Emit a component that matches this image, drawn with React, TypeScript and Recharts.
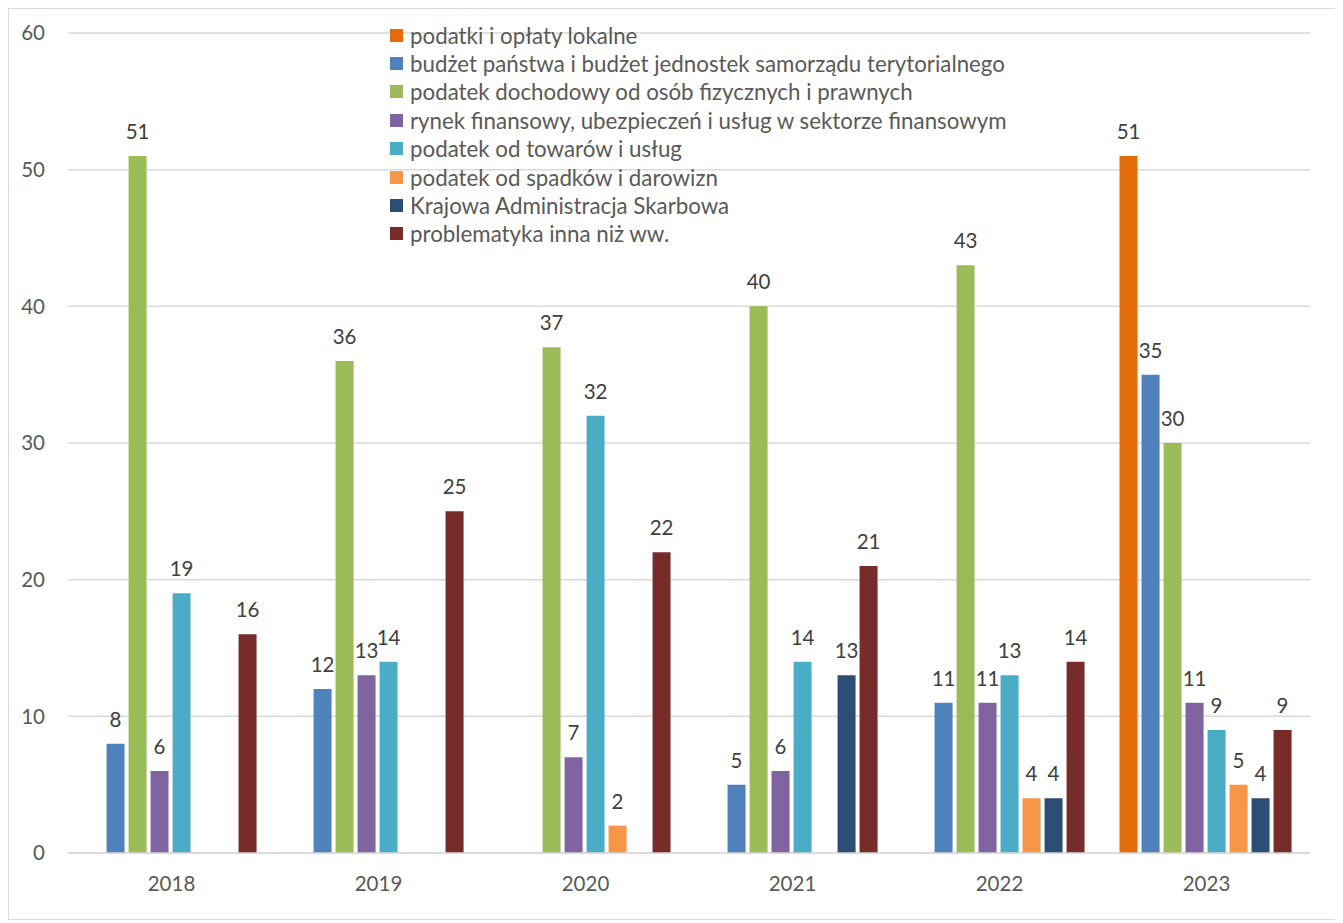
import React from 'react';
import {
  BarChart,
  Bar,
  XAxis,
  YAxis,
  CartesianGrid,
  LabelList,
} from 'recharts';

const years = ['2018', '2019', '2020', '2021', '2022', '2023'];

const lokalne = [null, null, null, null, null, 51];
const budzet = [8, 12, null, 5, 11, 35];
const dochodowy = [51, 36, 37, 40, 43, 30];
const rynek = [6, 13, 7, 6, 11, 11];
const towary = [19, 14, 32, 14, 13, 9];
const spadki = [null, null, 2, null, 4, 5];
const kas = [null, null, null, 13, 4, 4];
const inna = [16, 25, 22, 21, 14, 9];

const yTicks = [0, 10, 20, 30, 40, 50, 60];

const series = [
  { key: 'lokalne', name: 'podatki i opłaty lokalne', color: '#E46C0A', values: lokalne },
  { key: 'budzet', name: 'budżet państwa i budżet jednostek samorządu terytorialnego', color: '#4F81BD', values: budzet },
  { key: 'dochodowy', name: 'podatek dochodowy od osób fizycznych i prawnych', color: '#9BBB59', values: dochodowy },
  { key: 'rynek', name: 'rynek finansowy, ubezpieczeń i usług w sektorze finansowym', color: '#8064A2', values: rynek },
  { key: 'towary', name: 'podatek od towarów i usług', color: '#4BACC6', values: towary },
  { key: 'spadki', name: 'podatek od spadków i darowizn', color: '#F79646', values: spadki },
  { key: 'kas', name: 'Krajowa Administracja Skarbowa', color: '#2C4D75', values: kas },
  { key: 'inna', name: 'problematyka inna niż ww.', color: '#772C2A', values: inna },
];

const data = years.map((year, i) => {
  const row: Record<string, any> = { year };
  series.forEach((s) => {
    row[s.key] = s.values[i];
  });
  return row;
});

const FONT = 'Lato, "Open Sans", sans-serif';

// legend sits over the plot, like in the original
const LegendList = () => (
  <div
    style={{
      position: 'absolute',
      left: 381,
      top: 12,
      fontFamily: FONT,
      fontSize: 22.3,
      color: '#595959',
      pointerEvents: 'none',
    }}
  >
    {series.map((s) => (
      <div key={s.key} style={{ display: 'flex', alignItems: 'center', height: 28.4 }}>
        <span style={{ width: 13, height: 13, background: s.color, marginRight: 7, flexShrink: 0 }} />
        <span style={{ whiteSpace: 'nowrap' }}>{s.name}</span>
      </div>
    ))}
  </div>
);

export default function App() {
  return (
    <div
      style={{
        position: 'relative',
        width: 1331,
        height: 912,
        border: '1px solid #d9d9d9',
        boxSizing: 'border-box',
        background: '#fff',
        fontFamily: FONT,
      }}
    >
      <BarChart
        width={1329}
        height={910}
        data={data}
        margin={{ top: 24, right: 28, left: 0, bottom: 0 }}
        barCategoryGap="8%"
        barGap={4}
      >
        <CartesianGrid vertical={false} stroke="#d9d9d9" strokeWidth={1.5} />
        <XAxis
          dataKey="year"
          height={66}
          axisLine={{ stroke: '#d9d9d9', strokeWidth: 1.5 }}
          tickLine={false}
          tickSize={0}
          tickMargin={23}
          tick={{ fill: '#595959', fontSize: 20.5, fontFamily: FONT }}
        />
        <YAxis
          width={59}
          domain={[0, 60]}
          ticks={yTicks}
          axisLine={false}
          tickLine={false}
          tickSize={0}
          tickMargin={23}
          tick={{ fill: '#595959', fontSize: 20.5, fontFamily: FONT }}
        />
        {series.map((s) => (
          <Bar
            key={s.key}
            dataKey={s.key}
            name={s.name}
            fill={s.color}
            isAnimationActive={false}
          >
            <LabelList
              dataKey={s.key}
              position="top"
              offset={17}
              fill="#404040"
              fontSize={20.5}
              fontFamily={FONT}
              formatter={(v: any) => (v == null ? '' : v)}
            />
          </Bar>
        ))}
      </BarChart>
      <LegendList />
    </div>
  );
}
